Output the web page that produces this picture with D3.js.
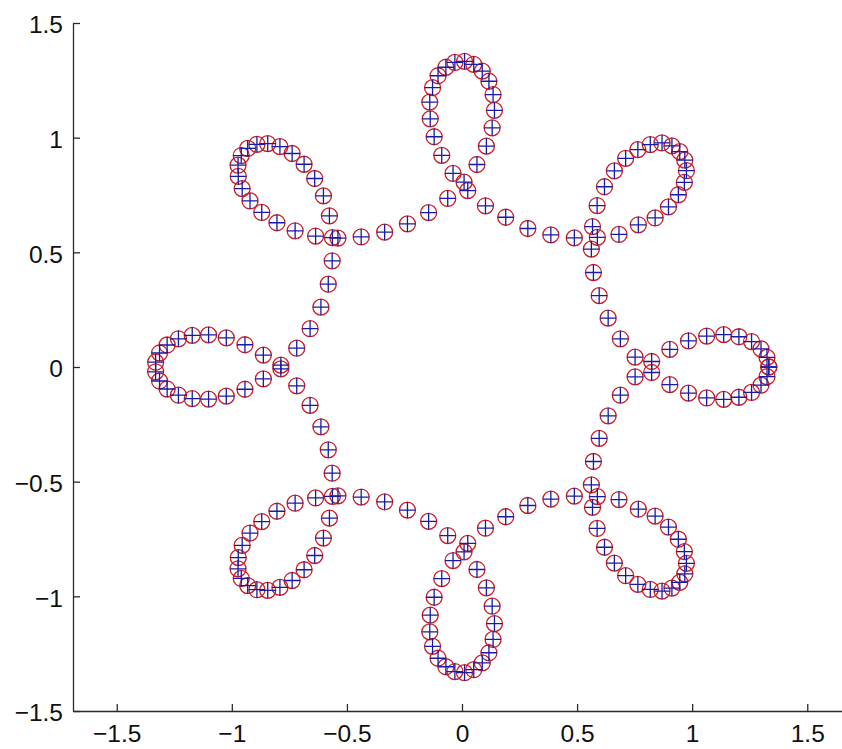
<!DOCTYPE html>
<html>
<head>
<meta charset="utf-8">
<script src="https://cdn.jsdelivr.net/npm/d3@7/dist/d3.min.js"></script>
<style>
  html, body { margin: 0; padding: 0; background: #ffffff; }
  svg { display: block; }
  .axis text { font-family: "Liberation Sans", Arial, Helvetica, sans-serif; font-size: 24.5px; fill: #111; }
  .axis path, .axis line { stroke: #2a2a2a; stroke-width: 1.3px; }
</style>
</head>
<body>
<svg id="chart" width="842" height="749"></svg>
<script>
// Sampled points of the eight-lobed curve (200 samples, first and last coincide)
const xs = [
  1.333, 1.325, 1.299, 1.258, 1.203, 1.137, 1.063, 0.984, 0.903, 0.824,
  0.752, 0.688, 0.635, 0.596, 0.571, 0.562, 0.567, 0.587, 0.619, 0.662,
  0.711, 0.764, 0.818, 0.869, 0.912, 0.946, 0.968, 0.975, 0.966, 0.940,
  0.897, 0.839, 0.766, 0.682, 0.588, 0.488, 0.386, 0.286, 0.190, 0.102,
  0.025, -0.039, -0.088, -0.121, -0.138, -0.140, -0.128, -0.104, -0.070, -0.031,
  0.011, 0.051, 0.088, 0.117, 0.135, 0.141, 0.131, 0.106, 0.065, 0.009,
  -0.062, -0.145, -0.237, -0.336, -0.438, -0.539, -0.636, -0.725, -0.804, -0.870,
  -0.921, -0.955, -0.972, -0.973, -0.959, -0.931, -0.891, -0.844, -0.791, -0.738,
  -0.686, -0.640, -0.602, -0.576, -0.563, -0.564, -0.581, -0.613, -0.660, -0.718,
  -0.787, -0.863, -0.943, -1.024, -1.101, -1.172, -1.232, -1.281, -1.314, -1.331,
  -1.331, -1.314, -1.281, -1.232, -1.172, -1.101, -1.024, -0.943, -0.863, -0.787,
  -0.718, -0.660, -0.613, -0.581, -0.564, -0.563, -0.576, -0.602, -0.640, -0.686,
  -0.738, -0.791, -0.844, -0.891, -0.931, -0.959, -0.973, -0.972, -0.955, -0.921,
  -0.870, -0.804, -0.725, -0.636, -0.539, -0.438, -0.336, -0.237, -0.145, -0.062,
  0.009, 0.065, 0.106, 0.131, 0.141, 0.135, 0.117, 0.088, 0.051, 0.011,
  -0.031, -0.070, -0.104, -0.128, -0.140, -0.138, -0.121, -0.088, -0.039, 0.025,
  0.102, 0.190, 0.286, 0.386, 0.488, 0.588, 0.682, 0.766, 0.839, 0.897,
  0.940, 0.966, 0.975, 0.968, 0.946, 0.912, 0.869, 0.818, 0.764, 0.711,
  0.662, 0.619, 0.587, 0.567, 0.562, 0.571, 0.596, 0.635, 0.688, 0.752,
  0.824, 0.903, 0.984, 1.063, 1.137, 1.203, 1.258, 1.299, 1.325, 1.333
];
const ys = [
  0.000, -0.042, -0.079, -0.111, -0.132, -0.141, -0.135, -0.114, -0.077, -0.024,
  0.043, 0.123, 0.213, 0.311, 0.412, 0.514, 0.612, 0.704, 0.786, 0.855,
  0.910, 0.948, 0.970, 0.977, 0.964, 0.939, 0.902, 0.856, 0.805, 0.751,
  0.698, 0.650, 0.620, 0.578, 0.565, 0.563, 0.576, 0.604, 0.653, 0.703,
  0.769, 0.844, 0.923, 1.004, 1.082, 1.155, 1.218, 1.270, 1.307, 1.328,
  1.333, 1.320, 1.290, 1.246, 1.188, 1.119, 1.043, 0.963, 0.883, 0.806,
  0.735, 0.673, 0.624, 0.588, 0.567, 0.562, 0.571, 0.594, 0.629, 0.674,
  0.724, 0.778, 0.831, 0.880, 0.922, 0.953, 0.971, 0.974, 0.961, 0.931,
  0.884, 0.822, 0.746, 0.659, 0.564, 0.463, 0.361, 0.261, 0.167, 0.082,
  0.008, -0.052, -0.097, -0.127, -0.140, -0.138, -0.123, -0.096, -0.061, -0.021,
  0.021, 0.061, 0.096, 0.123, 0.138, 0.140, 0.127, 0.097, 0.052, -0.008,
  -0.082, -0.167, -0.261, -0.361, -0.463, -0.564, -0.659, -0.746, -0.822, -0.884,
  -0.931, -0.961, -0.974, -0.971, -0.953, -0.922, -0.880, -0.831, -0.778, -0.724,
  -0.674, -0.629, -0.594, -0.571, -0.562, -0.567, -0.588, -0.624, -0.673, -0.735,
  -0.806, -0.883, -0.963, -1.043, -1.119, -1.188, -1.246, -1.290, -1.320, -1.333,
  -1.328, -1.307, -1.270, -1.218, -1.155, -1.082, -1.004, -0.923, -0.844, -0.769,
  -0.703, -0.653, -0.604, -0.576, -0.563, -0.565, -0.578, -0.620, -0.650, -0.698,
  -0.751, -0.805, -0.856, -0.902, -0.939, -0.964, -0.977, -0.970, -0.948, -0.910,
  -0.855, -0.786, -0.704, -0.612, -0.514, -0.412, -0.311, -0.213, -0.123, -0.043,
  0.024, 0.077, 0.114, 0.135, 0.141, 0.132, 0.111, 0.079, 0.042, 0.000
];

// Axis ticks and their labels
const xTicks = [-1.5, -1, -0.5, 0, 0.5, 1, 1.5];
const xTickLabels = ["\u22121.5", "\u22121", "\u22120.5", "0", "0.5", "1", "1.5"];
const yTicks = [-1.5, -1, -0.5, 0, 0.5, 1, 1.5];
const yTickLabels = ["\u22121.5", "\u22121", "\u22120.5", "0", "0.5", "1", "1.5"];

const points = xs.map((x, i) => ({ x: x, y: ys[i] }));

const svg = d3.select("#chart");

// Equal-aspect data box; the right end of the x range runs past the page edge
const x = d3.scaleLinear().domain([-1.69, 1.69]).range([73, 851]);
const y = d3.scaleLinear().domain([-1.5, 1.5]).range([711, 23]);

// Markers: red rings with a blue plus on top
const markerR = 8;

svg.append("g")
  .selectAll("circle")
  .data(points)
  .join("circle")
  .attr("cx", d => x(d.x))
  .attr("cy", d => y(d.y))
  .attr("r", markerR)
  .attr("fill", "none")
  .attr("stroke", "#c8202a")
  .attr("stroke-width", 1.3);

svg.append("g")
  .selectAll("path")
  .data(points)
  .join("path")
  .attr("d", d => {
    const cx = x(d.x), cy = y(d.y);
    return `M${cx - markerR},${cy}H${cx + markerR}M${cx},${cy - markerR}V${cy + markerR}`;
  })
  .attr("fill", "none")
  .attr("stroke", "#1a1aa8")
  .attr("stroke-width", 1.3);

// Axes with inward ticks
const xAxis = d3.axisBottom(x)
  .tickValues(xTicks)
  .tickFormat((d, i) => xTickLabels[i])
  .tickSizeInner(-7)
  .tickSizeOuter(0)
  .tickPadding(14);

const yAxis = d3.axisLeft(y)
  .tickValues(yTicks)
  .tickFormat((d, i) => yTickLabels[i])
  .tickSizeInner(-7)
  .tickSizeOuter(0)
  .tickPadding(10);

svg.append("g")
  .attr("class", "axis")
  .attr("transform", "translate(0,711)")
  .call(xAxis);

svg.append("g")
  .attr("class", "axis")
  .attr("transform", "translate(73,0)")
  .call(yAxis)
  .selectAll("text")
  .attr("dy", "0.4em");
</script>
</body>
</html>
